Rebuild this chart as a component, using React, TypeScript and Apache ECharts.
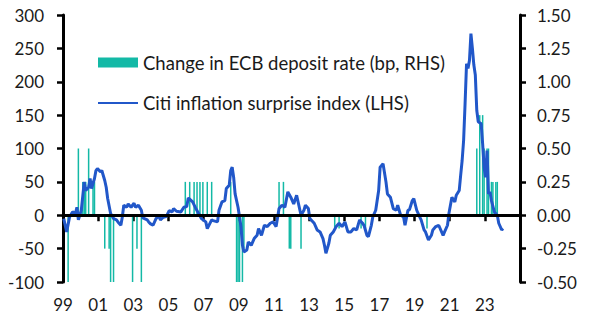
import React, { useEffect, useRef } from "react";
import * as echarts from "echarts";

// Citi inflation surprise index (LHS), monthly readings
const surpriseMonths = [
  "1999-01", "1999-03", "1999-05", "1999-07", "1999-09", "1999-10", "1999-11",
  "2000-01", "2000-03", "2000-04", "2000-06", "2000-07", "2000-08", "2000-10", "2000-11", "2000-12",
  "2001-02", "2001-03", "2001-05", "2001-06", "2001-07", "2001-09", "2001-11",
  "2002-01", "2002-02", "2002-04", "2002-05", "2002-06", "2002-08", "2002-09", "2002-11",
  "2003-01", "2003-02", "2003-04", "2003-06", "2003-07", "2003-10", "2003-11", "2003-12",
  "2004-02", "2004-04", "2004-06", "2004-07", "2004-09", "2004-11",
  "2005-01", "2005-03", "2005-04", "2005-06", "2005-09", "2005-11",
  "2006-01", "2006-02", "2006-05", "2006-07", "2006-09", "2006-11",
  "2007-02", "2007-03", "2007-06", "2007-07", "2007-10", "2007-11",
  "2008-01", "2008-03", "2008-04", "2008-06", "2008-07", "2008-08", "2008-09", "2008-10", "2008-12",
  "2009-02", "2009-03", "2009-04", "2009-06", "2009-07", "2009-09", "2009-11",
  "2010-01", "2010-02", "2010-04", "2010-06", "2010-08", "2010-10", "2010-12",
  "2011-02", "2011-04", "2011-06", "2011-08", "2011-10", "2011-12",
  "2012-02", "2012-04", "2012-07", "2012-09", "2012-10", "2012-12",
  "2013-01", "2013-04", "2013-06", "2013-08", "2013-10", "2013-11", "2013-12",
  "2014-02", "2014-03", "2014-05", "2014-07", "2014-09", "2014-11",
  "2015-01", "2015-03", "2015-05", "2015-07", "2015-09", "2015-11",
  "2016-01", "2016-02", "2016-04", "2016-05", "2016-07", "2016-08", "2016-10", "2016-12",
  "2017-01", "2017-03", "2017-05", "2017-06", "2017-08", "2017-10", "2017-12",
  "2018-01", "2018-03", "2018-05", "2018-06", "2018-08", "2018-09", "2018-11", "2018-12",
  "2019-02", "2019-04", "2019-05", "2019-07", "2019-08", "2019-10", "2019-12",
  "2020-01", "2020-03", "2020-05", "2020-08", "2020-09", "2020-11", "2020-12",
  "2021-02", "2021-04", "2021-05", "2021-07", "2021-08", "2021-09", "2021-10", "2021-11", "2021-12",
  "2022-01", "2022-02", "2022-03", "2022-04", "2022-05", "2022-06", "2022-07", "2022-08", "2022-10", "2022-11", "2022-12",
  "2023-01", "2023-02", "2023-03", "2023-04", "2023-05", "2023-07", "2023-09", "2023-10", "2023-12",
  "2024-01",
];
const surpriseValues = [
  -5, -25, -2.5, 5, 3, 12, -7,
  7.5, 50, 37, 42, 55, 40, 55, 67, 70,
  65, 67, 52, 42, 25, 2.5, -5,
  -7, -10, -15, -2.5, 15, 12, 17, 12,
  18, 12, 15, 7.5, -4, -7, -10, -12.5,
  -15, -5, -1, -7, -3, -2,
  7, 5, 10, 6, 5, 12,
  13, 26, 20, 11, 3, -5,
  -10, -20, -7, -8, -10, 7.5,
  20, 22, 40, 45, 67, 72, 57, 32, 12,
  -17, -45, -55, -52, -40, -45, -35,
  -30, -20, -30, -15, -17, -12, -10,
  -17, 10, 15, 12, 35, 27,
  17, 30, 0, 7.5, 15, 10,
  -5, -12, -22, -25, -35, -45, -57,
  -42, -30, -25, -17, -12, -17,
  -10, -25, -25, -20, -22, -7,
  -12, -15, -30, -32, -15, -2.5, 7.5, 37,
  72, 77, 50, 32, 27, 10, 7.5,
  15, 0, -2.5, -15, 7.5, 8, 22, 25,
  7.5, -2.5, -7, -22, -25, -37, -30,
  -22, -17, -15, -30, -25, -15, 3,
  27, 20, 30, 37, 60, 82, 112, 167, 227,
  220, 232, 272, 250, 225, 210, 157, 140, 137, 107, 72,
  57, 97, 32, 35, 22, 5, 0, -12, -22,
  -20,
];

// Change in ECB deposit rate (RHS, percentage points)
const rateMonths = [
  "1999-04", "1999-11", "2000-02", "2000-03", "2000-04", "2000-06", "2000-09", "2000-10",
  "2001-05", "2001-08", "2001-09", "2001-11", "2002-12", "2003-03", "2003-06",
  "2005-12", "2006-03", "2006-06", "2006-08", "2006-10", "2006-12", "2007-03", "2007-06",
  "2008-07", "2008-11", "2008-12", "2009-01", "2009-03", "2009-04",
  "2011-04", "2011-07", "2011-11", "2011-12", "2012-07",
  "2014-06", "2014-09", "2015-12", "2016-03", "2019-09",
  "2022-07", "2022-09", "2022-11", "2022-12", "2023-02", "2023-03",
  "2023-05", "2023-06", "2023-08", "2023-09",
];
const rateChanges = [
  -0.5, 0.5, 0.25, 0.25, 0.25, 0.5, 0.25, 0.25,
  -0.25, -0.25, -0.5, -0.5, -0.5, -0.25, -0.5,
  0.25, 0.25, 0.25, 0.25, 0.25, 0.25, 0.25, 0.25,
  0.25, -0.5, -0.75, -1.0, -0.5, -0.25,
  0.25, 0.25, -0.25, -0.25, -0.25,
  -0.1, -0.1, -0.1, -0.1, -0.1,
  0.5, 0.75, 0.75, 0.5, 0.5, 0.5,
  0.25, 0.25, 0.25, 0.25,
];

const barName = "Change in ECB deposit rate (bp, RHS)";
const lineName = "Citi inflation surprise index (LHS)";

const FONT = "Lato";
const TEXT = "#1a1a1a";
const TEAL = "#13b9a6";
const BLUE = "#2157c9";

const toYear = (m: string) => {
  const [y, mo] = m.split("-").map(Number);
  return y + (mo - 0.5) / 12;
};

export default function App() {
  const ref = useRef<HTMLDivElement>(null);

  useEffect(() => {
    if (!ref.current) return;
    const chart = echarts.init(ref.current, undefined, { renderer: "svg" });
    const axisLine = { show: true, lineStyle: { color: "#000", width: 3 } };
    const axisTick = { show: true, length: 6, lineStyle: { color: "#000", width: 2.5 } };
    const label = { color: TEXT, fontSize: 17, fontFamily: FONT };

    chart.setOption({
      animation: false,
      backgroundColor: "#fff",
      grid: { left: 63, right: 71, top: 15, bottom: 50, containLabel: false },
      legend: {
        orient: "vertical",
        left: 92,
        top: 48,
        padding: 5,
        itemWidth: 40,
        itemHeight: 10,
        itemGap: 21.5,
        textStyle: { color: TEXT, fontSize: 18.5, fontFamily: FONT },
        data: [
          { name: barName, icon: "rect" },
          { name: lineName, itemStyle: { opacity: 0 } },
        ],
      },
      xAxis: {
        type: "value",
        min: 1999,
        max: 2025,
        interval: 2,
        axisLine,
        axisTick,
        splitLine: { show: false },
        axisLabel: {
          ...label,
          margin: 14,
          formatter: (v: number) => (v >= 2025 ? "" : String(v % 100).padStart(2, "0")),
        },
      },
      yAxis: [
        {
          type: "value",
          min: -100,
          max: 300,
          interval: 50,
          axisLine,
          axisTick,
          splitLine: { show: false },
          axisLabel: { ...label, margin: 19 },
        },
        {
          type: "value",
          min: -0.5,
          max: 1.5,
          interval: 0.25,
          position: "right",
          axisLine,
          axisTick,
          splitLine: { show: false },
          axisLabel: { ...label, margin: 17, formatter: (v: number) => v.toFixed(2) },
        },
      ],
      series: [
        {
          name: barName,
          type: "bar",
          yAxisIndex: 1,
          barWidth: 1.5,
          clip: true,
          itemStyle: { color: TEAL },
          data: rateMonths.map((m, i) => [toYear(m), rateChanges[i]]),
          markLine: {
            silent: true,
            symbol: "none",
            label: { show: false },
            lineStyle: { color: "#000", width: 3, type: "solid" },
            data: [{ yAxis: 0 }],
          },
        },
        {
          name: lineName,
          type: "line",
          yAxisIndex: 0,
          showSymbol: false,
          symbol: "none",
          lineStyle: { color: BLUE, width: 3 },
          itemStyle: { color: BLUE },
          data: surpriseMonths.map((m, i) => [toYear(m), surpriseValues[i]]),
        },
      ],
    });
    return () => chart.dispose();
  }, []);

  return <div ref={ref} style={{ width: 591, height: 332, margin: -8 }} />;
}
